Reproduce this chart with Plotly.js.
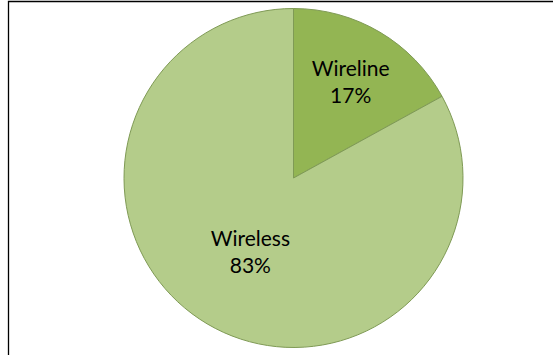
<!DOCTYPE html>
<html>
<head>
<meta charset="utf-8">
<script src="https://cdn.plot.ly/plotly-3.0.1.min.js"></script>
<style>
html,body{margin:0;padding:0;background:#fff;}
#chart{width:553px;height:355px;}
</style>
</head>
<body>
<div id="chart"></div>
<script>
var labels = ["Wireline", "Wireless"];
var values = [17, 83];
var colors = ["#93b553", "#b4cc8a"];

var W = 553, H = 355;
var cx = 293.5, cy = 178, R = 169.5;

var trace = {
  type: "pie",
  labels: labels,
  values: values,
  sort: false,
  direction: "clockwise",
  rotation: 0,
  marker: {colors: colors, line: {color: "#7f9a55", width: 1}},
  texttemplate: "%{label}<br>%{percent:.0%}",
  textposition: "inside",
  insidetextorientation: "horizontal",
  textfont: {family: "Lato, 'Open Sans', sans-serif", size: 21, color: "#000000"},
  hoverinfo: "label+percent",
  showlegend: false,
  domain: {x: [(cx - R) / W, (cx + R) / W], y: [(H - cy - R) / H, (H - cy + R) / H]}
};

var layout = {
  width: W,
  height: H,
  margin: {l: 0, r: 0, t: 0, b: 0},
  paper_bgcolor: "#ffffff",
  plot_bgcolor: "#ffffff",
  showlegend: false,
  shapes: [{
    type: "rect", xref: "paper", yref: "paper",
    x0: 8.5 / W, x1: 1.2, y0: -0.2, y1: (H - 1.5) / H,
    line: {color: "#000000", width: 1.3}, fillcolor: "rgba(0,0,0,0)", layer: "below"
  }]
};

Plotly.newPlot("chart", [trace], layout, {displayModeBar: false, staticPlot: true});
</script>
</body>
</html>
